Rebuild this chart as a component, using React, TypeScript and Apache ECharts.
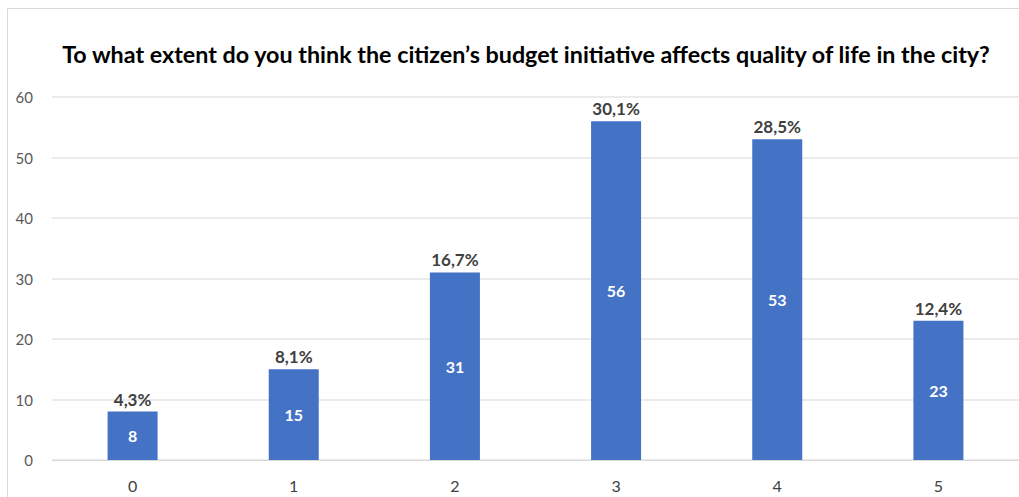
import React, { useEffect, useRef } from "react";
import * as echarts from "echarts";

const categories = ["0", "1", "2", "3", "4", "5"];
const counts = [8, 15, 31, 56, 53, 23];
const percents = ["4,3%", "8,1%", "16,7%", "30,1%", "28,5%", "12,4%"];
const yTicks = { min: 0, max: 60, interval: 10 };
const titleText =
  "To what extent do you think the citizen\u2019s budget initiative affects quality of life in the city?";

export default function App() {
  const ref = useRef<HTMLDivElement>(null);
  useEffect(() => {
    document.body.style.margin = "0";
    const chart = echarts.init(ref.current!, undefined, { renderer: "svg" });
    chart.setOption({
      animation: false,
      backgroundColor: "#ffffff",
      textStyle: { fontFamily: "Lato" },
      graphic: [
        {
          type: "rect",
          shape: { x: 7.5, y: 8.5, width: 1040, height: 520 },
          style: { fill: "none", stroke: "#d9d9d9", lineWidth: 1 },
          silent: true,
        },
      ],
      title: {
        text: titleText,
        left: 521,
        textAlign: "center",
        top: 37,
        textStyle: { fontFamily: "Lato", fontWeight: "bold", fontSize: 23.3, color: "#000000" },
      },
      grid: { left: 52, right: 0, top: 97, bottom: 37, containLabel: false },
      xAxis: {
        type: "category",
        data: categories,
        axisLine: { lineStyle: { color: "#d9d9d9" } },
        axisTick: { show: false },
        axisLabel: { color: "#404040", fontSize: 16, margin: 17 },
      },
      yAxis: {
        type: "value",
        min: yTicks.min,
        max: yTicks.max,
        interval: yTicks.interval,
        axisLine: { show: false },
        axisTick: { show: false },
        splitLine: { lineStyle: { color: "#e4e4e4", width: 1.5 } },
        axisLabel: { color: "#595959", fontSize: 15, margin: 19 },
      },
      series: [
        {
          type: "bar",
          data: counts,
          barWidth: 50,
          itemStyle: { color: "#4472C4" },
          label: {
            show: true,
            position: "inside",
            color: "#ffffff",
            fontWeight: "bold",
            fontSize: 16,
          },
          z: 2,
        },
        {
          type: "bar",
          data: counts,
          barWidth: 50,
          barGap: "-100%",
          itemStyle: { color: "rgba(0,0,0,0)" },
          label: {
            show: true,
            position: "top",
            distance: 4,
            color: "#404040",
            fontWeight: "bold",
            fontSize: 17,
            formatter: (p: any) => percents[p.dataIndex],
          },
          z: 3,
        },
      ],
    });
    return () => chart.dispose();
  }, []);
  return <div ref={ref} style={{ width: 1019, height: 497 }} />;
}
